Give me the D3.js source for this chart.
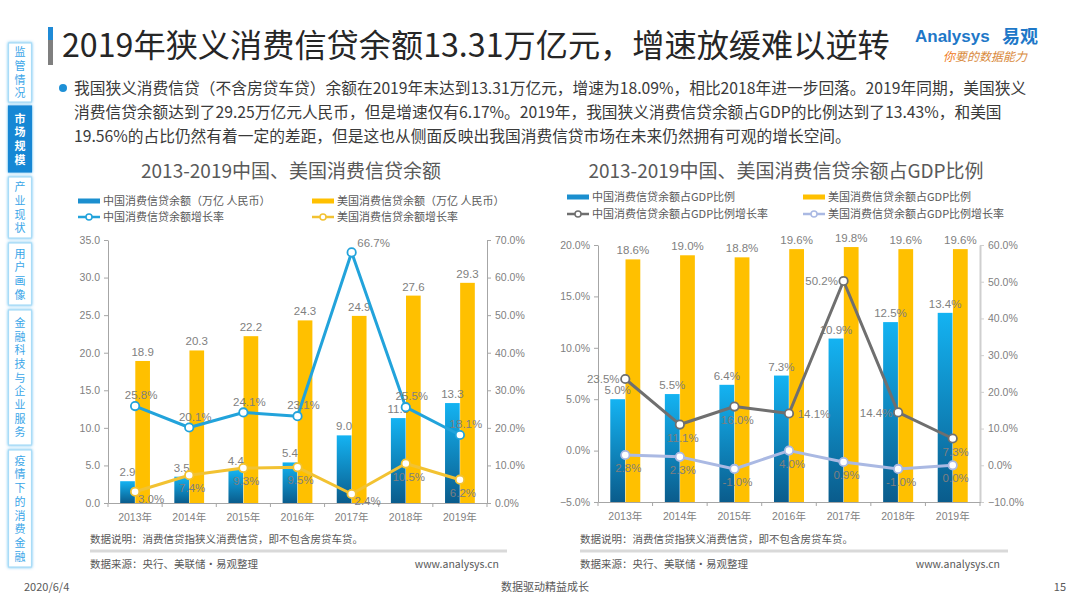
<!DOCTYPE html>
<html><head><meta charset="utf-8">
<script src="https://cdn.jsdelivr.net/npm/d3@7/dist/d3.min.js"></script>
<style>
html,body{margin:0;padding:0;background:#fff;}
svg{display:block;font-family:"Noto Sans CJK SC","Noto Sans",sans-serif;}
.vt{writing-mode:vertical-rl;text-orientation:upright;}
</style></head><body>
<svg id="c" width="1080" height="608"></svg>
<script>
// ---------------- data ----------------
const years = ["2013年","2014年","2015年","2016年","2017年","2018年","2019年"];
// left chart: balances (万亿 人民币) and growth (%)
const cnBalance = [2.9, 3.5, 4.4, 5.4, 9.0, 11.3, 13.3];
const usBalance = [18.9, 20.3, 22.2, 24.3, 24.9, 27.6, 29.3];
const cnBalanceGrowth = [25.8, 20.1, 24.1, 23.1, 66.7, 25.5, 18.1];
const usBalanceGrowth = [3.0, 7.4, 9.3, 9.5, 2.4, 10.5, 6.2];
// right chart: share of GDP (%) and its growth (%)
const cnGdpRatio = [5.0, 5.5, 6.4, 7.3, 10.9, 12.5, 13.4];
const usGdpRatio = [18.6, 19.0, 18.8, 19.6, 19.8, 19.6, 19.6];
const cnGdpRatioGrowth = [23.5, 11.1, 16.0, 14.1, 50.2, 14.4, 7.3];
const usGdpRatioGrowth = [2.8, 2.3, -1.0, 4.0, 0.9, -1.0, 0.0];
// axis ticks
const leftTicksA = [0, 5, 10, 15, 20, 25, 30, 35];
const rightTicksA = [0, 10, 20, 30, 40, 50, 60, 70];
const leftTicksB = [-5, 0, 5, 10, 15, 20];
const rightTicksB = [-10, 0, 10, 20, 30, 40, 50, 60];
// label placement keywords
const cnBalanceGrowthPos = ["above","above","above","above","aboveright","above","above"];
const usBalanceGrowthPos = ["belowright","below","below","below","belowright","below","below"];
const cnGdpGrowthPos = ["left","below","below","right","left","left","below"];
const usGdpGrowthPos = ["below","below","below","below","below","below","below"];

const svg = d3.select("#c");
const defs = svg.append("defs");
const grad = defs.append("linearGradient").attr("id","cnGrad").attr("x1",0).attr("y1",0).attr("x2",0).attr("y2",1);
grad.append("stop").attr("offset","0%").attr("stop-color","#14b3f2");
grad.append("stop").attr("offset","100%").attr("stop-color","#0a5c8c");
const glow = defs.append("filter").attr("id","glow").attr("x","-50%").attr("y","-20%").attr("width","200%").attr("height","140%");
glow.append("feDropShadow").attr("dx",0).attr("dy",0).attr("stdDeviation",1.8).attr("flood-color","#5bbcf0").attr("flood-opacity",0.95);

const GRAY = "#7f7f7f";
const NUMF = "'Liberation Sans', Arial, 'Noto Sans CJK SC', sans-serif";

// ---------------- sidebar ----------------
const tabs = [
  {t:"监管情况", y0:43, y1:102},
  {t:"市场规模", y0:106, y1:172, active:true},
  {t:"产业现状", y0:177, y1:238},
  {t:"用户画像", y0:243, y1:305},
  {t:"金融科技与企业服务", y0:310, y1:445},
  {t:"疫情下的消费金融", y0:450, y1:567}
];
const sb = svg.append("g");
tabs.forEach(tb => {
  sb.append("rect").attr("x",8.5).attr("y",tb.y0).attr("width",23).attr("height",tb.y1-tb.y0)
    .attr("fill", tb.active ? "#1487d4" : "#fff").attr("stroke", tb.active ? "#1487d4" : "#a9dcf7")
    .attr("stroke-width",1.2).attr("filter","url(#glow)");
  const n = Array.from(tb.t).length;
  const fs = 11, sp = 13.7, cy = (tb.y0+tb.y1)/2;
  sb.append("text").attr("class","vt").attr("x",20).attr("y", cy - (n*sp - (sp-fs))/2)
    .attr("font-size",fs).attr("letter-spacing", sp-fs)
    .attr("font-weight", tb.active ? 700 : 400)
    .attr("fill", tb.active ? "#fff" : "#3aa6e8").text(tb.t);
});

// ---------------- header ----------------
svg.append("rect").attr("x",48).attr("y",27).attr("width",5).attr("height",13).attr("fill","#1f8ad6");
svg.append("rect").attr("x",48).attr("y",40).attr("width",5).attr("height",25).attr("fill","#7f7f7f");
const title = svg.append("text").attr("x",62).attr("y",57).attr("font-size",31).attr("fill","#262626")
  .text("2019年狭义消费信贷余额13.31万亿元，增速放缓难以逆转");
{
  const w = title.node().getComputedTextLength();
  title.attr("font-size", 31*828/w);
}
// logo
const logo = svg.append("g");
logo.append("text").attr("x",915).attr("y",42).attr("font-family",NUMF).attr("font-size",17)
  .attr("font-weight",700).attr("fill","#1e78c8").text("Analysys");
logo.append("text").attr("x",1002).attr("y",42.5).attr("font-size",18).attr("font-weight",700)
  .attr("fill","#1e78c8").text("易观");
const slog = logo.append("text").attr("x",943).attr("y",61).attr("font-size",12).attr("font-style","italic");
slog.append("tspan").attr("fill","#f07a1a").text("你");
slog.append("tspan").attr("fill","#d98a3c").text("要的数据能力");

// paragraph
svg.append("circle").attr("cx",63).attr("cy",88).attr("r",4).attr("fill","#1e90d6");
const para = [
  "我国狭义消费信贷（不含房贷车贷）余额在2019年末达到13.31万亿元，增速为18.09%，相比2018年进一步回落。2019年同期，美国狭义",
  "消费信贷余额达到了29.25万亿元人民币，但是增速仅有6.17%。2019年，我国狭义消费信贷余额占GDP的比例达到了13.43%，和美国",
  "19.56%的占比仍然有着一定的差距，但是这也从侧面反映出我国消费信贷市场在未来仍然拥有可观的增长空间。"
];
const pt = para.map((s,i) => svg.append("text").attr("x",74).attr("y",88+i*24).attr("dy","0.36em")
  .attr("font-size",15).attr("fill","#3a3a3a").text(s));
{
  const w = pt[0].node().getComputedTextLength();
  const fs = 15*953/w;
  pt.forEach(t => t.attr("font-size", fs));
}

// ---------------- chart builder ----------------
function drawChart(cfg) {
  const g = svg.append("g");
  const x = d3.scaleBand().domain(years).range([cfg.x0, cfg.x1]).paddingInner(0.45).paddingOuter(0.225);
  const xs = d3.scaleBand().domain([0,1]).range([0, x.bandwidth()]).paddingInner(0.03);
  const yL = d3.scaleLinear().domain(cfg.leftDomain).range([cfg.yBot, cfg.yTop]);
  const yR = d3.scaleLinear().domain(cfg.rightDomain).range([cfg.yBot, cfg.yTop]);
  const cx = i => x(years[i]) + x.bandwidth()/2;

  // title
  g.append("text").attr("x",cfg.titleX).attr("y",cfg.titleY).attr("dy","0.36em").attr("text-anchor","middle")
    .attr("font-size",19).attr("fill","#595959").text(cfg.title);

  // legend
  cfg.legend.forEach(it => {
    if (it.type === "bar") {
      g.append("rect").attr("x",it.x).attr("y",it.y-2.5).attr("width",22).attr("height",5).attr("fill",it.color);
    } else {
      g.append("line").attr("x1",it.x).attr("x2",it.x+22).attr("y1",it.y).attr("y2",it.y)
        .attr("stroke",it.color).attr("stroke-width",2.5);
      g.append("circle").attr("cx",it.x+11).attr("cy",it.y).attr("r",3).attr("fill","#fff")
        .attr("stroke",it.color).attr("stroke-width",1.5);
    }
    g.append("text").attr("x",it.x+25).attr("y",it.y).attr("dy","0.36em").attr("font-size",11)
      .attr("fill","#595959").text(it.label);
  });

  // bars
  cfg.bars.forEach((s,k) => {
    g.append("g").selectAll("rect").data(s.values).join("rect")
      .attr("x",(d,i)=>x(years[i])+xs(k)).attr("width",xs.bandwidth())
      .attr("y",d=>yL(d)).attr("height",d=>yL(cfg.leftDomain[0])-yL(d))
      .attr("fill",s.fill);
  });

  // axes
  const styleAxis = (sel, color, width) => {
    sel.select(".domain").attr("stroke",color).attr("stroke-width",width||1);
    sel.selectAll(".tick line").attr("stroke",color);
    sel.selectAll(".tick text").attr("fill",GRAY).attr("font-size",10.5).attr("font-family",NUMF);
  };
  const axL = g.append("g").attr("transform",`translate(${cfg.x0},0)`)
    .call(d3.axisLeft(yL).tickValues(cfg.leftTicks).tickSize(4).tickSizeOuter(0).tickPadding(4).tickFormat(cfg.leftFmt));
  styleAxis(axL, "#a6a6a6");
  const axR = g.append("g").attr("transform",`translate(${cfg.x1},0)`)
    .call(d3.axisRight(yR).tickValues(cfg.rightTicks).tickSize(4).tickSizeOuter(0).tickPadding(4).tickFormat(cfg.rightFmt));
  styleAxis(axR, cfg.rightAxisColor, cfg.rightAxisWidth);
  const axB = g.append("g").attr("transform",`translate(0,${cfg.yBot})`)
    .call(d3.axisBottom(x).tickSize(0).tickSizeOuter(0).tickPadding(11));
  styleAxis(axB, "#a6a6a6");
  const off = (x.step()-x.bandwidth())/2;
  const bounds = years.map(d => x(d)-off).concat([cfg.x1]);
  g.append("g").selectAll("line").data(bounds).join("line")
    .attr("x1",d=>d).attr("x2",d=>d).attr("y1",cfg.yBot).attr("y2",cfg.yBot+4).attr("stroke","#a6a6a6");

  // bar labels
  cfg.bars.forEach((s,k) => {
    g.append("g").selectAll("text").data(s.values).join("text")
      .attr("x",(d,i)=>x(years[i])+xs(k)+xs.bandwidth()/2).attr("y",d=>yL(d)-5)
      .attr("text-anchor","middle").attr("font-family",NUMF).attr("font-size",11.5).attr("fill",GRAY)
      .text(s.fmt);
  });

  // lines
  cfg.lines.forEach(s => {
    const line = d3.line().x((d,i)=>cx(i)).y(d=>yR(d));
    g.append("path").datum(s.values).attr("d",line).attr("fill","none")
      .attr("stroke",s.color).attr("stroke-width",3).attr("stroke-linejoin","round");
  });
  cfg.lines.forEach(s => {
    g.append("g").selectAll("circle").data(s.values).join("circle")
      .attr("cx",(d,i)=>cx(i)).attr("cy",d=>yR(d)).attr("r",4.2)
      .attr("fill","#fff").attr("stroke",s.color).attr("stroke-width",1.8);
  });
  const place = {above:[6,-11], aboveright:[22,-10], below:[3,13], belowright:[16,7], left:[-22,0], right:[25,0]};
  cfg.lines.forEach(s => {
    g.append("g").selectAll("text").data(s.values).join("text")
      .attr("x",(d,i)=>cx(i)+place[s.pos[i]][0]).attr("y",(d,i)=>yR(d)+place[s.pos[i]][1])
      .attr("dy","0.36em").attr("text-anchor","middle").attr("font-family",NUMF)
      .attr("font-size",11.5).attr("fill",GRAY).text(d=>d.toFixed(1)+"%");
  });

  // notes
  g.append("text").attr("x",cfg.noteX).attr("y",539).attr("dy","0.36em").attr("font-size",10.5)
    .attr("fill","#595959").text("数据说明：消费信贷指狭义消费信贷，即不包含房贷车贷。");
  g.append("line").attr("x1",cfg.noteX).attr("x2",cfg.noteX2).attr("y1",551).attr("y2",551)
    .attr("stroke","#d9d9d9").attr("stroke-width",3);
  g.append("text").attr("x",cfg.noteX).attr("y",564).attr("dy","0.36em").attr("font-size",10.5)
    .attr("fill","#595959").text("数据来源：央行、美联储·易观整理");
  g.append("text").attr("x",cfg.noteX2-8).attr("y",564).attr("dy","0.36em").attr("text-anchor","end")
    .attr("font-size",10.5).attr("fill","#595959").text("www.analysys.cn");
}

const f1 = d => d3.format(".1f")(d);
const fp = d => d3.format(".1f")(d) + "%";

drawChart({
  x0:108, x1:487, yTop:240, yBot:503,
  leftDomain:[0,35], rightDomain:[0,70], leftTicks:leftTicksA, rightTicks:rightTicksA,
  leftFmt:f1, rightFmt:fp, rightAxisColor:"#a6a6a6", rightAxisWidth:1,
  title:"2013-2019中国、美国消费信贷余额", titleX:291, titleY:171,
  legend:[
    {type:"bar", color:"#1b8fcf", label:"中国消费信贷余额（万亿  人民币）", x:78, y:201},
    {type:"bar", color:"#ffc000", label:"美国消费信贷余额（万亿  人民币）", x:312, y:201},
    {type:"line", color:"#22a3db", label:"中国消费信贷余额增长率", x:78, y:217},
    {type:"line", color:"#f2c232", label:"美国消费信贷余额增长率", x:312, y:217}
  ],
  bars:[
    {values:cnBalance, fill:"url(#cnGrad)", fmt:d=>d.toFixed(1)},
    {values:usBalance, fill:"#ffc000", fmt:d=>d.toFixed(1)}
  ],
  lines:[
    {values:cnBalanceGrowth, color:"#22a3db", pos:cnBalanceGrowthPos},
    {values:usBalanceGrowth, color:"#f2c232", pos:usBalanceGrowthPos}
  ],
  noteX:90, noteX2:507
});

drawChart({
  x0:598, x1:980, yTop:245, yBot:502,
  leftDomain:[-5,20], rightDomain:[-10,60], leftTicks:leftTicksB, rightTicks:rightTicksB,
  leftFmt:fp, rightFmt:fp, rightAxisColor:"#cfcfcf", rightAxisWidth:2,
  title:"2013-2019中国、美国消费信贷余额占GDP比例", titleX:786, titleY:171,
  legend:[
    {type:"bar", color:"#1b8fcf", label:"中国消费信贷余额占GDP比例", x:567, y:197},
    {type:"bar", color:"#ffc000", label:"美国消费信贷余额占GDP比例", x:803, y:197},
    {type:"line", color:"#6f6f6f", label:"中国消费信贷余额占GDP比例增长率", x:567, y:214},
    {type:"line", color:"#aab9e3", label:"美国消费信贷余额占GDP比例增长率", x:803, y:214}
  ],
  bars:[
    {values:cnGdpRatio, fill:"url(#cnGrad)", fmt:d=>d.toFixed(1)+"%"},
    {values:usGdpRatio, fill:"#ffc000", fmt:d=>d.toFixed(1)+"%"}
  ],
  lines:[
    {values:cnGdpRatioGrowth, color:"#6f6f6f", pos:cnGdpGrowthPos},
    {values:usGdpRatioGrowth, color:"#aab9e3", pos:usGdpGrowthPos}
  ],
  noteX:580, noteX2:1008
});

// footer
svg.append("text").attr("x",24).attr("y",587).attr("dy","0.36em").attr("font-size",11).attr("fill","#595959").text("2020/6/4");
svg.append("text").attr("x",545).attr("y",587).attr("dy","0.36em").attr("text-anchor","middle").attr("font-size",11).attr("fill","#595959").text("数据驱动精益成长");
svg.append("text").attr("x",1066).attr("y",587).attr("dy","0.36em").attr("text-anchor","end").attr("font-size",11).attr("fill","#595959").text("15");
</script>
</body></html>
